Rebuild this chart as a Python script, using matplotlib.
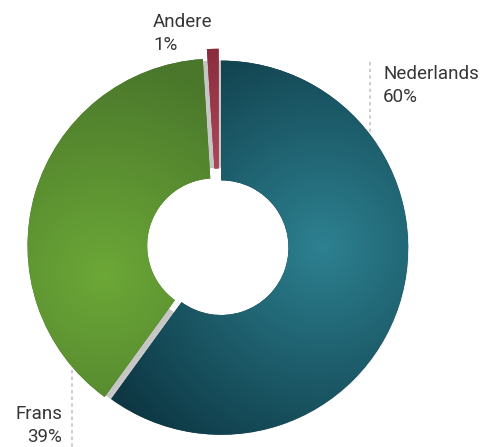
import numpy as np
import matplotlib
matplotlib.use('Agg')
import matplotlib.pyplot as plt
from matplotlib.colors import LinearSegmentedColormap
from matplotlib.lines import Line2D

# taalverdeling
labels = ['Nederlands', 'Frans', 'Andere']
shares = [60, 39, 1]
explode = [0.012, 0.025, 0.06]

# gradient per slice: (licht, donker, hoogtepunt, bereik)
grads = [
    ('#2d8191', '#0d3743', (0.55, 0.0), 1.35),
    ('#6ca837', '#4a772b', (-0.62, -0.15), 1.15),
    ('#b44b5d', '#872b3b', (0.0, 0.3), 0.8),
]

W, H = 494, 447
fig = plt.figure(figsize=(W / 100, H / 100), dpi=100)
ax = fig.add_axes([0, 0, 1, 1])
R = 187.0
cx, cy = 219, 200  # centre in px from bottom-left
ax.set_aspect('equal')
ax.axis('off')

hole = 0.36
ring = 1 - hole

# shadow under the slices
for off, col, a in [(0.016, '#a0a0a0', 0.25), (0.004, '#c6c6c6', 1.0)]:
    ax.pie(shares, startangle=90, counterclock=False,
           colors=[col] * 3, center=(off, -off * 0.4),
           wedgeprops=dict(width=ring, linewidth=0, alpha=a), frame=True)
ax.add_patch(plt.Circle((0, 0), hole + 0.06, color='white', zorder=1.5))

wedges, _ = ax.pie(shares, explode=explode, startangle=90, counterclock=False,
                   colors=[g[1] for g in grads],
                   wedgeprops=dict(width=ring, linewidth=0), frame=True)

xs = np.linspace(-1.3, 1.3, 400)
X, Y = np.meshgrid(xs, xs)
for w, (light, dark, (hx, hy), span) in zip(wedges, grads):
    w.set_zorder(2)
    cmap = LinearSegmentedColormap.from_list('g', [light, dark])
    d = np.clip(np.hypot(X - hx, Y - hy) / span, 0, 1)
    im = ax.imshow(d, cmap=cmap, extent=(-1.3, 1.3, -1.3, 1.3), origin='lower',
                   vmin=0, vmax=1, zorder=3, interpolation='bilinear')
    im.set_clip_path(w)

ax.set_xlim(-cx / R, (W - cx) / R)
ax.set_ylim(-cy / R, (H - cy) / R)

txt = dict(fontsize=13.5, color='#363636', family=['Roboto', 'DejaVu Sans'],
           va='baseline')


def label(x, y, name, pct, ha):
    fig.text(x / W, 1 - y / H, name, ha=ha, **txt)
    fig.text(x / W, 1 - (y + 23) / H, f'{pct}%', ha=ha, **txt)


label(153, 27, labels[2], shares[2], 'left')
label(383, 79, labels[0], shares[0], 'left')
label(62, 419, labels[1], shares[1], 'right')

lk = dict(color='#c4c4c4', linestyle=(0, (2, 2)), linewidth=1.2)
fig.add_artist(Line2D([370 / W, 370 / W], [1 - 62 / H, 1 - 132 / H], **lk))
fig.add_artist(Line2D([72 / W, 72 / W], [1 - 370 / H, 0], **lk))

fig.savefig('out.png', dpi=100, facecolor='white')
